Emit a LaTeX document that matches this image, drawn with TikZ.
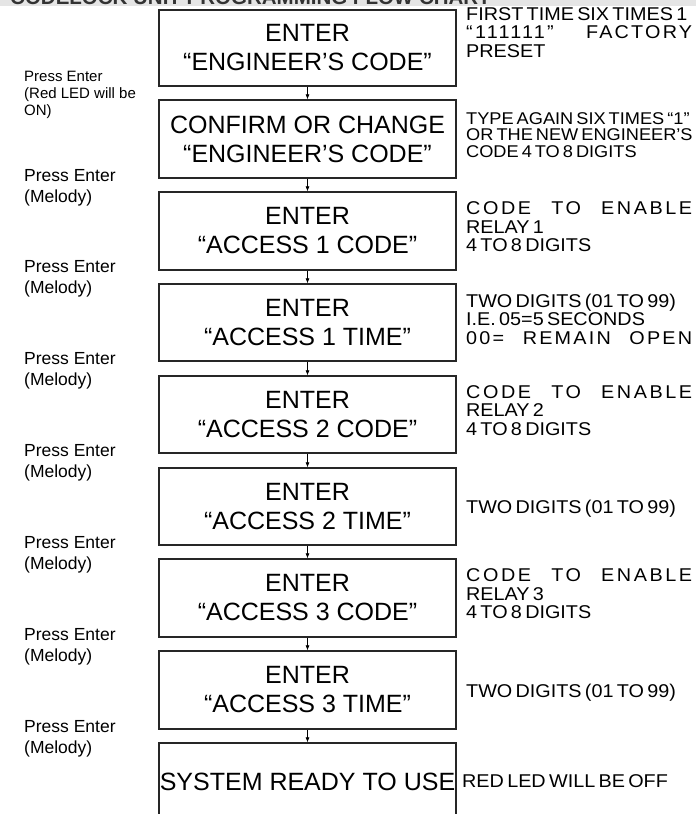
\documentclass[tikz,border=0pt]{standalone}
\usepackage{fontspec}
\setmainfont{Liberation Sans}
\newfontfamily\notefont[WordSpace=0.6,FakeStretch=1.07]{Liberation Sans}
\usetikzlibrary{arrows.meta}

\newlength{\rtw}
\setlength{\rtw}{226pt}
% a line spread over the whole width of the notes
\newcommand{\spreadln}[2][14]{\makebox[\rtw][s]{\addfontfeature{LetterSpace=#1}#2}}

\tikzset{
  stepbox/.style={draw=black!85, line width=1.3pt, minimum width=297pt, minimum height=77pt,
    inner sep=0pt, align=center, font=\fontsize{25}{29}\selectfont},
  flow/.style={-{Latex[length=5pt,width=4pt]}, line width=0.7pt},
  note/.style={anchor=north west, inner sep=0pt, align=left,
    font=\notefont\fontsize{18.5}{18.5}\selectfont},
  press/.style={anchor=north west, inner sep=0pt, align=left, font=\fontsize{17.5}{20.5}\selectfont},
}

\begin{document}
\begin{tikzpicture}[x=1pt,y=-1pt]
  \useasboundingbox (0,0) rectangle (696,814);
  \clip (0,0) rectangle (696,814);
  %TITLE (cut at the top)
  \fill[black!10] (0,0) rectangle (696,6);
  \node[anchor=base west, inner sep=0pt, text=black!80, font=\bfseries\fontsize{20.5}{22}\selectfont] (title) at (10,4) {CODELOCK UNIT PROGRAMMING FLOW CHART};

  %STEPS
  \node[stepbox, minimum height=76pt] (B1) at (307.5,48) {ENTER\\“ENGINEER’S CODE”};
  \node[stepbox, minimum height=78pt] (B2) at (307.5,139) {CONFIRM OR CHANGE\\“ENGINEER’S CODE”};
  \node[stepbox, minimum height=78pt] (B3) at (307.5,231) {ENTER\\“ACCESS 1 CODE”};
  \node[stepbox] (B4) at (307.5,322.5) {ENTER\\“ACCESS 1 TIME”};
  \node[stepbox] (B5) at (307.5,414.5) {ENTER\\“ACCESS 2 CODE”};
  \node[stepbox] (B6) at (307.5,506.5) {ENTER\\“ACCESS 2 TIME”};
  \node[stepbox, minimum height=78pt] (B7) at (307.5,598) {ENTER\\“ACCESS 3 CODE”};
  \node[stepbox, minimum height=78pt] (B8) at (307.5,690) {ENTER\\“ACCESS 3 TIME”};
  \node[stepbox, minimum height=78pt] (B9) at (307.5,782) {SYSTEM READY TO USE};

  %ARROWS
  \draw[flow] (B1) -- (B2);
  \draw[flow] (B2) -- (B3);
  \draw[flow] (B3) -- (B4);
  \draw[flow] (B4) -- (B5);
  \draw[flow] (B5) -- (B6);
  \draw[flow] (B6) -- (B7);
  \draw[flow] (B7) -- (B8);
  \draw[flow] (B8) -- (B9);

  %KEYS
  \node[press, font=\fontsize{15}{17}\selectfont] (P1) at (24,71) {Press Enter\\(Red LED will be\\ON)};
  \node[press] (P2) at (24,169.7) {Press Enter\\(Melody)};
  \node[press] (P3) at (24,260.7) {Press Enter\\(Melody)};
  \node[press] (P4) at (24,352.7) {Press Enter\\(Melody)};
  \node[press] (P5) at (24,444.7) {Press Enter\\(Melody)};
  \node[press] (P6) at (24,536.7) {Press Enter\\(Melody)};
  \node[press] (P7) at (24,628.7) {Press Enter\\(Melody)};
  \node[press] (P8) at (24,720.7) {Press Enter\\(Melody)};

  %NOTES
  \node[note] (N1) at (466,7) {FIRST TIME SIX TIMES 1\\\spreadln[12]{“111111” FACTORY}\\PRESET};
  \node[note, font=\notefont\fontsize{17}{16.5}\selectfont] (N2) at (466,112) {TYPE AGAIN SIX TIMES “1”\\OR THE NEW ENGINEER’S\\CODE 4 TO 8 DIGITS};
  \node[note] (N3) at (466,201.4) {\spreadln{CODE TO ENABLE}\\RELAY 1\\4 TO 8 DIGITS};
  \node[note] (N4) at (466,293.4) {TWO DIGITS (01 TO 99)\\I.E. 05=5 SECONDS\\\spreadln[12]{00= REMAIN OPEN}};
  \node[note] (N5) at (466,385) {\spreadln{CODE TO ENABLE}\\RELAY 2\\4 TO 8 DIGITS};
  \node[note] (N6) at (466,499.9) {TWO DIGITS (01 TO 99)};
  \node[note] (N7) at (466,568.4) {\spreadln{CODE TO ENABLE}\\RELAY 3\\4 TO 8 DIGITS};
  \node[note] (N8) at (466,683.4) {TWO DIGITS (01 TO 99)};
  \node[note] (N9) at (462,774.4) {RED LED WILL BE OFF};
\end{tikzpicture}
\end{document}
